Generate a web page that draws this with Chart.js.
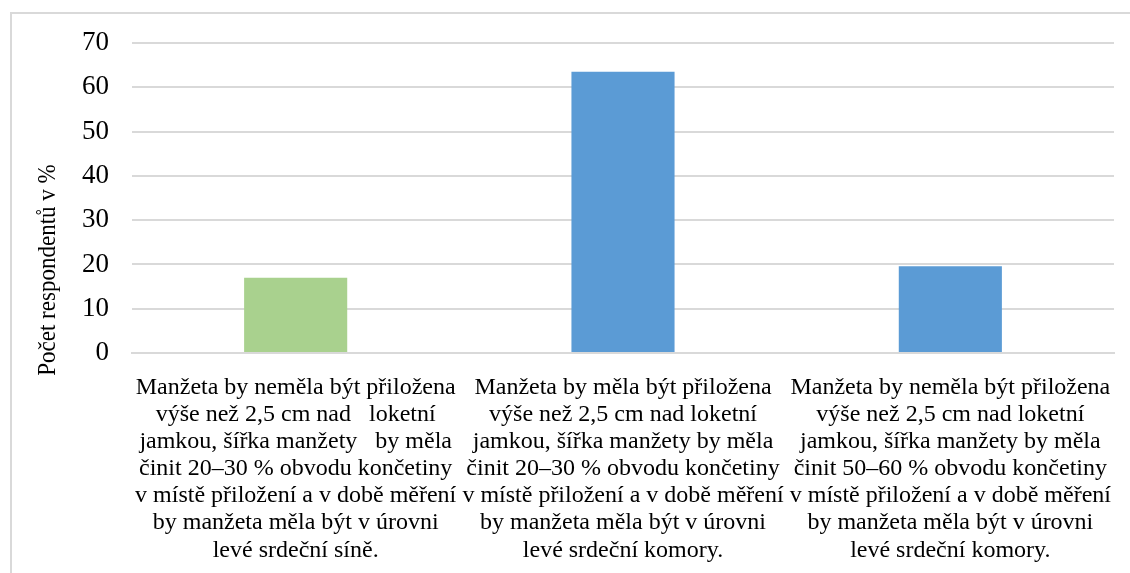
<!DOCTYPE html>
<html>
<head>
<meta charset="utf-8">
<script src="https://cdn.jsdelivr.net/npm/chart.js@4/dist/chart.umd.min.js"></script>
<style>
  body { margin: 0; background: #fff; }
  #frame { position: absolute; left: 10px; top: 12px; width: 1200px; height: 700px; border: 2px solid #d9d9d9; }
  #wrap { position: absolute; left: 0; top: 0; width: 1130px; height: 573px; }
</style>
</head>
<body>
<div id="frame"></div>
<div id="wrap"><canvas id="barChart"></canvas></div>
<script>
// categories, one array of lines per bar
var categories = [
    ['Manžeta by neměla být přiložena', 'výše než 2,5 cm nad   loketní', 'jamkou, šířka manžety   by měla',
     'činit 20–30 % obvodu končetiny', 'v místě přiložení a v době měření', 'by manžeta měla být v úrovni', 'levé srdeční síně.'],
    ['Manžeta by měla být přiložena', 'výše než 2,5 cm nad loketní', 'jamkou, šířka manžety by měla',
     'činit 20–30 % obvodu končetiny', 'v místě přiložení a v době měření', 'by manžeta měla být v úrovni', 'levé srdeční komory.'],
    ['Manžeta by neměla být přiložena', 'výše než 2,5 cm nad loketní', 'jamkou, šířka manžety by měla',
     'činit 50–60 % obvodu končetiny', 'v místě přiložení a v době měření', 'by manžeta měla být v úrovni', 'levé srdeční komory.']
];
var values = [17, 63.5, 19.6];
var barColors = ['#A9D18E', '#5B9BD5', '#5B9BD5'];
var yTicks = [0, 10, 20, 30, 40, 50, 60, 70];
var yTitle = 'Počet respondentů v %';

var serif = '"Liberation Serif", "Times New Roman", serif';

// y axis title sits lower than the plot centre, so draw it by hand
var yTitlePlugin = {
    id: 'yTitle',
    afterDraw: function(chart) {
        var c = chart.ctx;
        var area = chart.chartArea;
        c.save();
        c.translate(48, area.bottom - 83);
        c.rotate(-Math.PI / 2);
        c.scale(0.885, 1);
        c.font = '26px ' + serif;
        c.fillStyle = '#000';
        c.textAlign = 'center';
        c.textBaseline = 'middle';
        c.fillText(yTitle, 0, 0);
        c.restore();
    }
};

document.addEventListener("DOMContentLoaded", function() {
    var ctx = document.getElementById('barChart').getContext('2d');
    new Chart(ctx, {
        type: 'bar',
        data: {
            labels: categories,
            datasets: [{
                data: values,
                backgroundColor: barColors,
                borderWidth: 0,
                categoryPercentage: 1,
                barPercentage: 0.315
            }]
        },
        options: {
            responsive: true,
            maintainAspectRatio: false,
            animation: false,
            layout: { padding: { left: 20, right: 16, top: 43, bottom: 0 } },
            plugins: {
                legend: { display: false },
                tooltip: { enabled: false }
            },
            scales: {
                x: {
                    grid: { display: false },
                    border: { display: true, color: '#d9d9d9', width: 2 },
                    ticks: {
                        color: '#000',
                        maxRotation: 0,
                        autoSkip: false,
                        padding: 13,
                        font: { family: serif, size: 24, lineHeight: 1.13 }
                    },
                    afterFit: function(scale) { scale.height = 220; }
                },
                y: {
                    min: 0,
                    max: 70,
                    grid: { color: '#d9d9d9', lineWidth: 2, drawTicks: false },
                    border: { display: false },
                    afterBuildTicks: function(scale) {
                        scale.ticks = yTicks.map(function(v) { return { value: v }; });
                    },
                    ticks: {
                        color: '#000',
                        padding: 23,
                        font: { family: serif, size: 27 }
                    },
                    afterFit: function(scale) { scale.width = 112; }
                }
            }
        },
        plugins: [yTitlePlugin]
    });
});
</script>
</body>
</html>
